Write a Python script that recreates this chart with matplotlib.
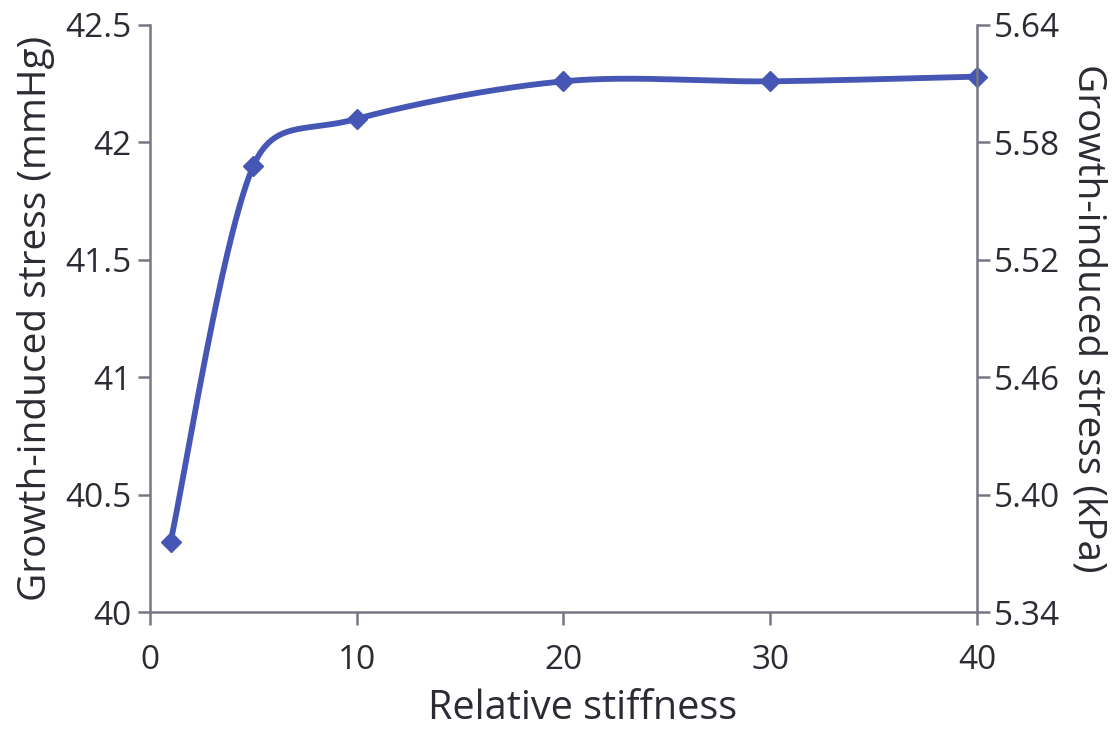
import numpy as np
import matplotlib.pyplot as plt

# === data ===
stiffness = [1, 5, 10, 20, 30, 40]
stress_mmhg = [40.30, 41.90, 42.10, 42.26, 42.26, 42.28]

xticks = [0, 10, 20, 30, 40]
yticks_left = [40, 40.5, 41, 41.5, 42, 42.5]
yticks_left_labels = ['40', '40.5', '41', '41.5', '42', '42.5']
yticks_right = [5.34, 5.40, 5.46, 5.52, 5.58, 5.64]
yticks_right_labels = ['5.34', '5.40', '5.46', '5.52', '5.58', '5.64']

LINE = '#4656b4'
AX = '#767684'
TXT = '#2b2b33'

plt.rcParams['font.family'] = ['Open Sans', 'DejaVu Sans']


def smooth(xs, ys, n=60):
    # smoothed line like Excel: Catmull-Rom as cubic Bezier segments,
    # tangent shortened where it would overshoot the next point
    pts = np.column_stack([xs, ys]).astype(float)
    out = []
    for i in range(len(pts) - 1):
        p0 = pts[i - 1] if i > 0 else pts[i]
        p1 = pts[i]
        p2 = pts[i + 1]
        p3 = pts[i + 2] if i + 2 < len(pts) else pts[i + 1]
        d1 = (p2 - p0) / 6.0
        d2 = (p3 - p1) / 6.0
        dy = p2[1] - p1[1]
        if dy != 0:
            if abs(d1[1]) > abs(dy):
                d1 = d1 * abs(dy) / abs(d1[1])
            if abs(d2[1]) > abs(dy):
                d2 = d2 * abs(dy) / abs(d2[1])
        c1 = p1 + d1
        c2 = p2 - d2
        t = np.linspace(0, 1, n)[:, None]
        seg = ((1 - t) ** 3) * p1 + 3 * ((1 - t) ** 2) * t * c1 + 3 * (1 - t) * t ** 2 * c2 + t ** 3 * p2
        out.append(seg if i == 0 else seg[1:])
    out = np.vstack(out)
    return out[:, 0], out[:, 1]


fig = plt.figure(figsize=(11.15, 7.3), dpi=100)
ax = fig.add_axes([0.1345, 0.1616, 0.7417, 0.8042])

sx, sy = smooth(stiffness, stress_mmhg)
ax.plot(sx, sy, color=LINE, lw=4.2, solid_capstyle='round', zorder=3, clip_on=False)
ax.plot(stiffness, stress_mmhg, linestyle='none', marker='D', ms=10, color=LINE, zorder=4, clip_on=False)

ax.set_xlim(0, 40)
ax.set_ylim(40, 42.5)
ax.set_xticks(xticks)
ax.set_yticks(yticks_left)
ax.set_yticklabels(yticks_left_labels)

ax2 = ax.twinx()
ax2.set_ylim(5.34, 5.64)
ax2.set_yticks(yticks_right)
ax2.set_yticklabels(yticks_right_labels)

for a in (ax, ax2):
    a.spines['top'].set_visible(False)
    for s in a.spines.values():
        s.set_color(AX)
        s.set_linewidth(1.8)
    a.tick_params(colors=AX, labelcolor=TXT, labelsize=24, width=1.8, length=9, direction='out')
ax.spines['right'].set_visible(False)
ax2.spines['left'].set_visible(False)
ax2.spines['bottom'].set_visible(False)
ax.tick_params(axis='x', pad=14)
ax.tick_params(axis='y', pad=4)
ax2.tick_params(axis='y', pad=3)

ax.set_xlabel('Relative stiffness', fontsize=28.5, color=TXT)
ax.xaxis.set_label_coords(0.523, -0.131)
ax.set_ylabel('Growth-induced stress (mmHg)', fontsize=28, color=TXT, labelpad=8)
ax2.set_ylabel('Growth-induced stress (kPa)', fontsize=28, color=TXT, rotation=270, labelpad=34)

fig.savefig('out.png', dpi=100)
